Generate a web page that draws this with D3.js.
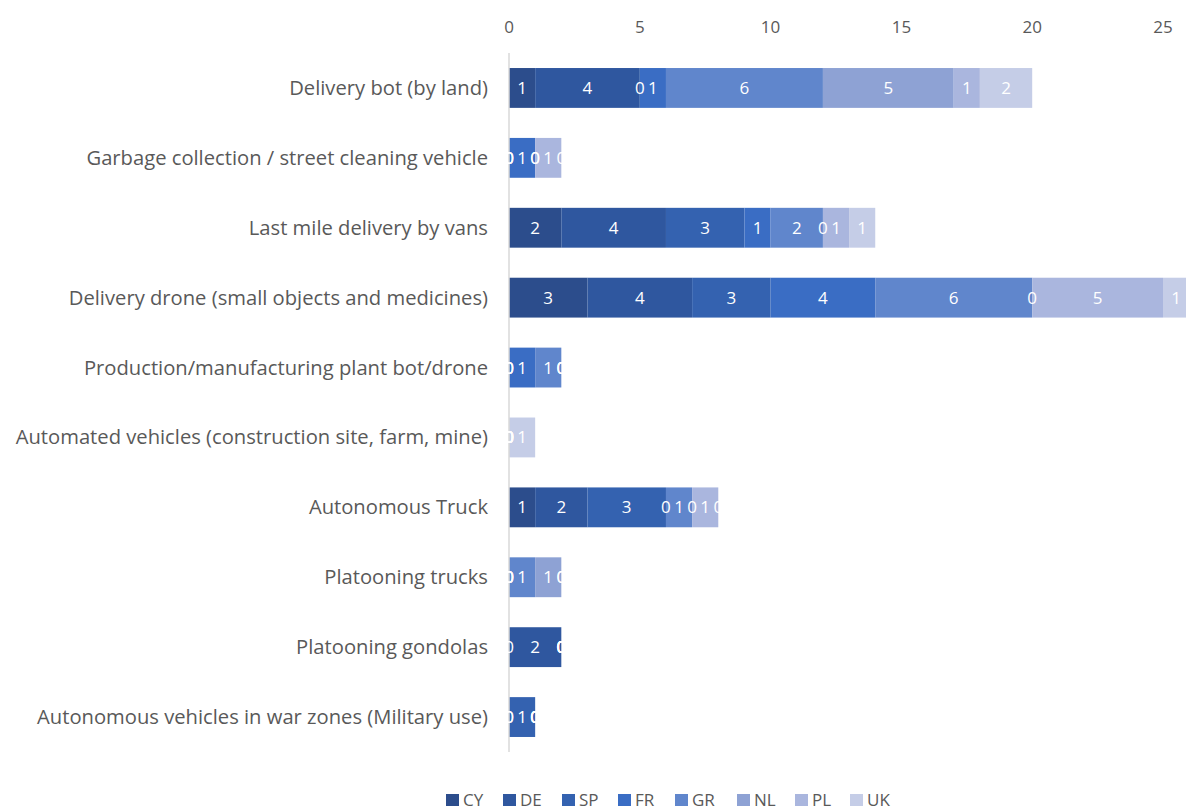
<!DOCTYPE html>
<html>
<head>
    <title>stacked bars</title>
    <style>
        body { margin: 0; background: #fff; }
        text { font-family: "Open Sans", sans-serif; }
    </style>
</head>
<body>
<script src="https://cdn.jsdelivr.net/npm/d3@7"></script>
<script>
    var width = 1186,
        height = 812;

    var categories = [
        "Delivery bot (by land)",
        "Garbage collection / street cleaning vehicle",
        "Last mile delivery by vans",
        "Delivery drone (small objects and medicines)",
        "Production/manufacturing plant bot/drone",
        "Automated vehicles (construction site, farm, mine)",
        "Autonomous Truck",
        "Platooning trucks",
        "Platooning gondolas",
        "Autonomous vehicles in war zones (Military use)"
    ];

    var countries = ["CY", "DE", "SP", "FR", "GR", "NL", "PL", "UK"];
    var colors = ["#2c4d8c", "#2f579f", "#3462b0", "#3a6dc4", "#6086cc", "#8ea2d4", "#aab6de", "#c5cde7"];

    // one array per country, same order as categories
    var CY = [1, 0, 2, 3, 0, 0, 1, 0, 0, 0];
    var DE = [4, 0, 4, 4, 0, 0, 2, 0, 2, 0];
    var SP = [0, 0, 3, 3, 0, 0, 3, 0, 0, 1];
    var FR = [1, 1, 1, 4, 1, 0, 0, 0, 0, 0];
    var GR = [6, 0, 2, 6, 1, 0, 1, 1, 0, 0];
    var NL = [5, 0, 0, 0, 0, 0, 0, 1, 0, 0];
    var PL = [1, 1, 1, 5, 0, 0, 1, 0, 0, 0];
    var UK = [2, 0, 1, 1, 0, 1, 0, 0, 0, 0];

    var xTicks = [0, 5, 10, 15, 20, 25];

    var series = [CY, DE, SP, FR, GR, NL, PL, UK];

    var rows = categories.map(function (c, i) {
        var r = {name: c};
        countries.forEach(function (k, j) { r[k] = series[j][i]; });
        return r;
    });

    var stacked = d3.stack().keys(countries)(rows);

    var x = d3.scaleLinear().domain([0, 25]).range([509, 1163]);
    var y = d3.scaleBand().domain(categories).range([53, 752]).paddingInner(0.43).paddingOuter(0.215);
    var color = d3.scaleOrdinal().domain(countries).range(colors);

    var svg = d3.select('body').append('svg')
            .attr('width', width)
            .attr('height', height);

    // top axis labels
    svg.append('g').selectAll('text')
            .data(xTicks)
            .enter().append('text')
            .attr('x', function (d) { return x(d); })
            .attr('y', 33)
            .attr('text-anchor', 'middle')
            .attr('fill', '#595959')
            .style('font-size', '17px')
            .text(function (d) { return d; });

    var layers = svg.append('g').selectAll('g')
            .data(stacked)
            .enter().append('g')
            .attr('fill', function (d) { return color(d.key); });

    layers.selectAll('rect')
            .data(function (d) { return d; })
            .enter().append('rect')
            .attr('x', function (d) { return x(d[0]); })
            .attr('y', function (d) { return y(d.data.name); })
            .attr('width', function (d) { return x(d[1]) - x(d[0]); })
            .attr('height', y.bandwidth());

    // vertical axis line
    svg.append('line')
            .attr('x1', x(0)).attr('x2', x(0))
            .attr('y1', 53).attr('y2', 752)
            .attr('stroke', '#d9d9d9')
            .attr('stroke-width', 1.5);

    // value labels on top of every bar (white, zeros too)
    var labelLayers = svg.append('g').selectAll('g')
            .data(stacked)
            .enter().append('g');

    labelLayers.selectAll('text')
            .data(function (d) { return d; })
            .enter().append('text')
            .attr('x', function (d) { return (x(d[0]) + x(d[1])) / 2; })
            .attr('y', function (d) { return y(d.data.name) + y.bandwidth() / 2 + 6; })
            .attr('text-anchor', 'middle')
            .attr('fill', '#ffffff')
            .style('font-size', '17px')
            .text(function (d) { return d[1] - d[0]; });

    // category labels
    svg.append('g').selectAll('text')
            .data(categories)
            .enter().append('text')
            .attr('x', 488)
            .attr('y', function (d) { return y(d) + y.bandwidth() / 2 + 7; })
            .attr('text-anchor', 'end')
            .attr('fill', '#595959')
            .style('font-size', '20.2px')
            .text(function (d) { return d; });

    // legend
    var legendX = [446, 503, 562, 618, 675, 737, 795, 850];
    var legend = svg.append('g').selectAll('g')
            .data(countries)
            .enter().append('g')
            .attr('transform', function (d, i) { return 'translate(' + legendX[i] + ',794)'; });

    legend.append('rect')
            .attr('width', 13).attr('height', 12)
            .attr('fill', function (d) { return color(d); });

    legend.append('text')
            .attr('x', 17)
            .attr('y', 12)
            .attr('fill', '#595959')
            .style('font-size', '17px')
            .text(function (d) { return d; });
</script>
</body>
</html>
